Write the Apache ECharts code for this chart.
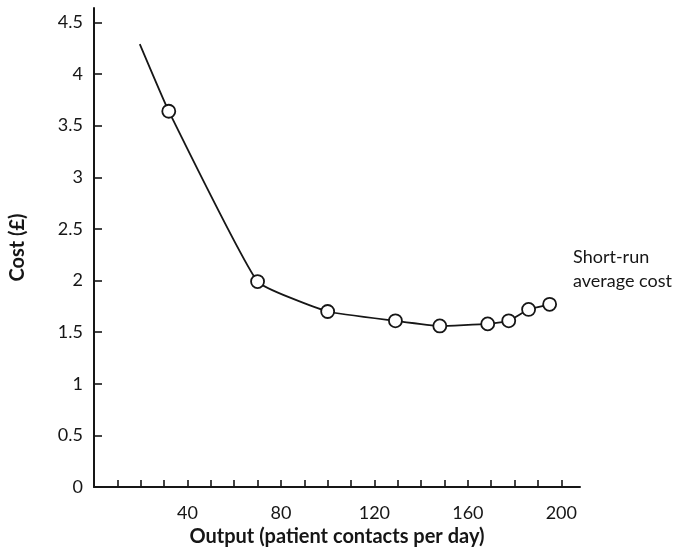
<!DOCTYPE html>
<html>
<head>
<meta charset="utf-8">
<script src="https://cdn.jsdelivr.net/npm/echarts@6/dist/echarts.min.js"></script>
<style>
  html, body { margin: 0; padding: 0; background: #ffffff; }
  #chart { width: 678px; height: 558px; }
</style>
</head>
<body>
<div id="chart"></div>
<script>
// Short-run average cost curve: output vs. cost per contact
const output = [19.6, 32, 70, 100, 129, 148, 168.5, 177.5, 186, 195];
const cost   = [4.29, 3.64, 1.99, 1.70, 1.61, 1.56, 1.58, 1.61, 1.72, 1.77];
// the first point only anchors the start of the curve; it carries no marker
const markerShown = [false, true, true, true, true, true, true, true, true, true];

const xTicks  = [10, 20, 30, 40, 50, 60, 70, 80, 90, 100, 110, 120, 130, 140, 150, 160, 170, 180, 190, 200];
const xLabels = [40, 80, 120, 160, 200];
const yTicks  = [0, 0.5, 1, 1.5, 2, 2.5, 3, 3.5, 4, 4.5];

const curveName = 'Short-run\naverage cost';

const fontFamily = 'Lato, "Open Sans", sans-serif';
const ink = '#161616';

const points = output.map((x, i) => {
  const item = { value: [x, cost[i]] };
  if (!markerShown[i]) item.symbol = 'none';
  if (i === output.length - 1) {
    item.label = {
      show: true,
      position: 'right',
      offset: [11, -35],
      formatter: curveName,
      color: ink,
      fontFamily: fontFamily,
      fontSize: 18,
      lineHeight: 24,
      align: 'left'
    };
  }
  return item;
});

const chart = echarts.init(document.getElementById('chart'), null, { renderer: 'canvas' });
chart.setOption({
  backgroundColor: '#ffffff',
  animation: false,
  grid: { left: 90, right: 98, top: 8, bottom: 71, containLabel: false },
  xAxis: {
    type: 'value',
    min: 0,
    max: 208,
    name: 'Output (patient contacts per day)',
    nameLocation: 'middle',
    nameGap: 40,
    nameTextStyle: { color: ink, fontFamily: fontFamily, fontSize: 20, fontWeight: 'bold' },
    axisLine: { show: true, lineStyle: { color: ink, width: 2 } },
    axisTick: { show: true, inside: true, length: 7, lineStyle: { color: ink, width: 1.6 }, customValues: xTicks },
    axisLabel: { color: ink, fontFamily: fontFamily, fontSize: 18, margin: 17, customValues: xLabels },
    splitLine: { show: false }
  },
  yAxis: {
    type: 'value',
    min: 0,
    max: 4.64,
    name: 'Cost (£)',
    nameLocation: 'middle',
    nameGap: 66,
    nameTextStyle: { color: ink, fontFamily: fontFamily, fontSize: 20, fontWeight: 'bold' },
    axisLine: { show: true, lineStyle: { color: ink, width: 2 } },
    axisTick: { show: true, inside: true, length: 8, lineStyle: { color: ink, width: 1.6 }, customValues: yTicks },
    axisLabel: { color: ink, fontFamily: fontFamily, fontSize: 18, margin: 11, customValues: yTicks },
    splitLine: { show: false }
  },
  series: [{
    type: 'line',
    data: points,
    smooth: 0.12,
    symbol: 'circle',
    symbolSize: 13,
    showAllSymbol: true,
    lineStyle: { color: ink, width: 1.8 },
    itemStyle: { color: '#ffffff', borderColor: ink, borderWidth: 1.8 },
    z: 3
  }]
});
</script>
</body>
</html>
